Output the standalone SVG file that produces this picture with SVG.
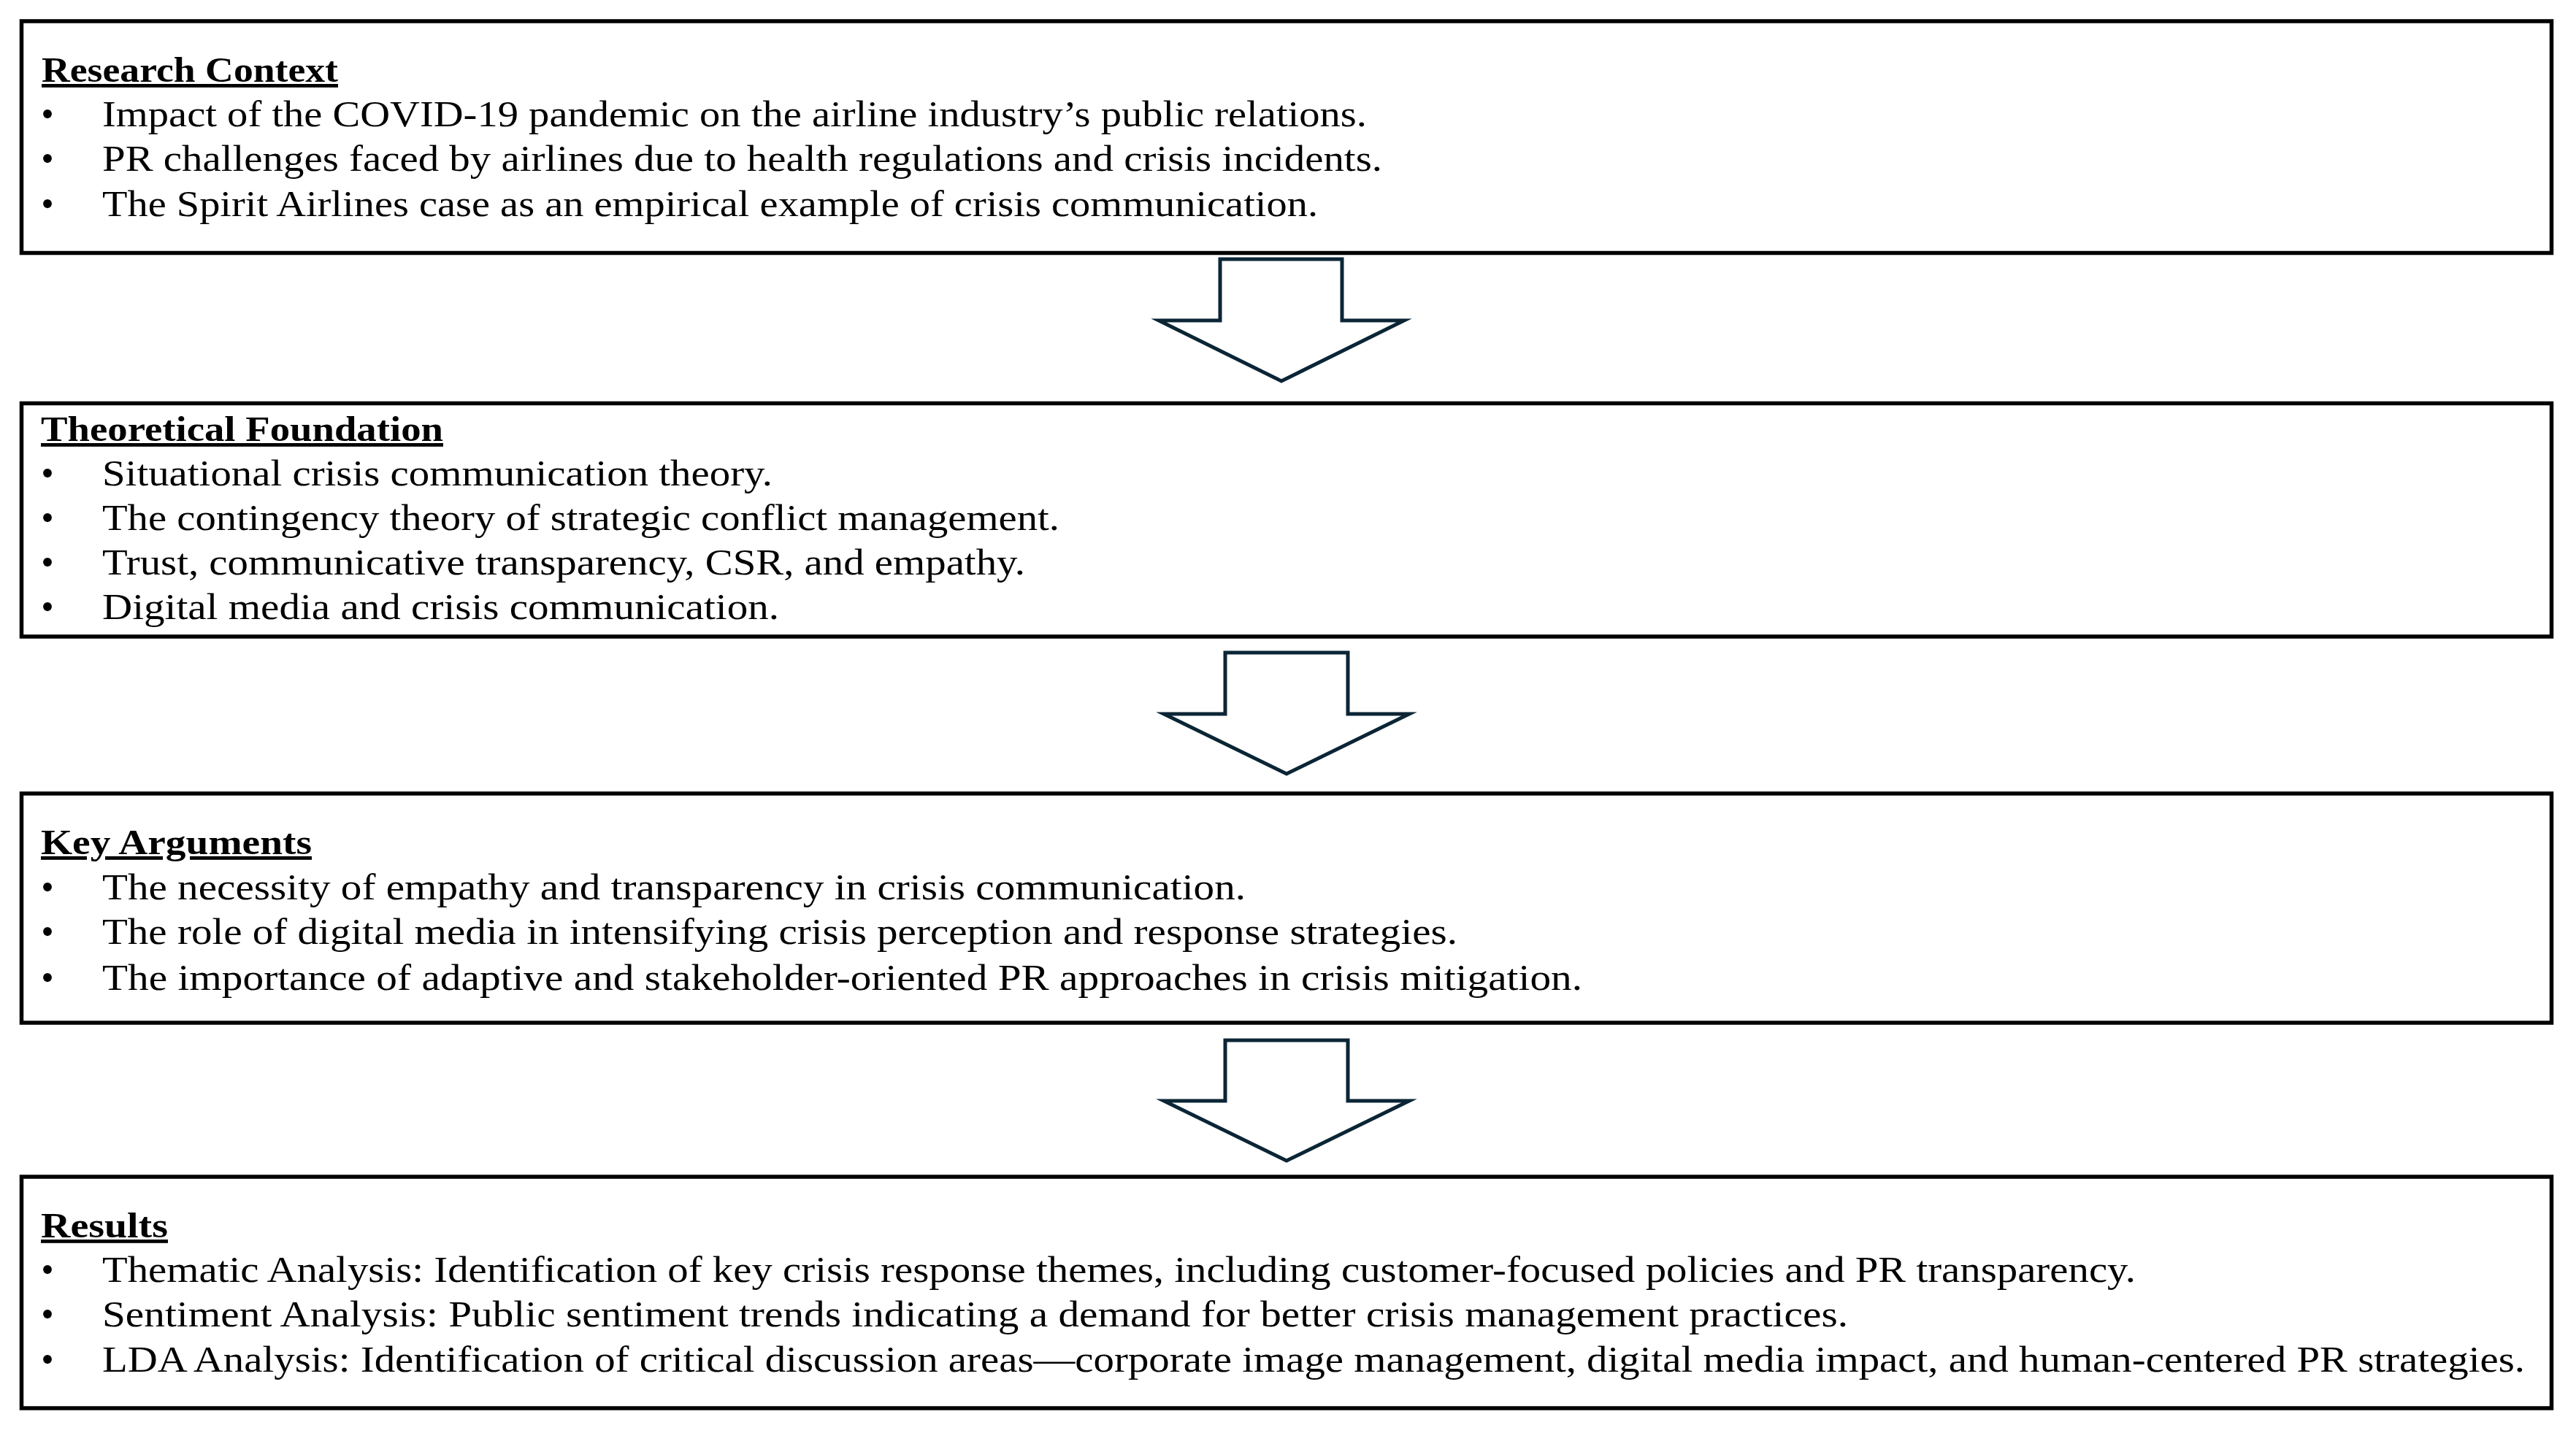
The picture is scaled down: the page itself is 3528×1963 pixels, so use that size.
<svg xmlns="http://www.w3.org/2000/svg" width="3528" height="1963" viewBox="0 0 3528 1963">
<style>
.box{fill:#ffffff;stroke:#000000;stroke-width:5.5}
.arr{fill:#ffffff;stroke:#0b2535;stroke-width:5;stroke-miterlimit:10;stroke-linejoin:miter}
.t{font-family:"Liberation Serif","Times New Roman",serif;font-size:48px;font-weight:bold;fill:#000;text-decoration:underline}
.b{font-family:"Liberation Serif","Times New Roman",serif;font-size:50px;fill:#000}
.d{font-family:"Liberation Serif","Times New Roman",serif;font-size:50px;fill:#000;text-anchor:middle}
</style>
<rect width="3528" height="1963" fill="#ffffff"/>
<g id="connectors">
<path class="arr" d="M1671,355 H1838 V439 H1923 L1755,522 L1587,439 H1671 Z"/>
<path class="arr" d="M1678,894 H1846 V978 H1930 L1762,1060 L1594,978 H1678 Z"/>
<path class="arr" d="M1678,1425 H1846 V1508 H1930 L1762,1590 L1594,1508 H1678 Z"/>
</g>
<g id="research-context">
<rect class="box" x="29.5" y="29" width="3465" height="317.5"/>
<text class="t" x="57" y="112" textLength="406" lengthAdjust="spacingAndGlyphs">Research Context</text>
<text class="d" x="65" y="173">•</text>
<text class="d" x="65" y="234">•</text>
<text class="d" x="65" y="296">•</text>
<text class="b" x="140" y="173" textLength="1732" lengthAdjust="spacingAndGlyphs">Impact of the COVID-19 pandemic on the airline industry’s public relations.</text>
<text class="b" x="140" y="234" textLength="1753" lengthAdjust="spacingAndGlyphs">PR challenges faced by airlines due to health regulations and crisis incidents.</text>
<text class="b" x="140" y="296" textLength="1665" lengthAdjust="spacingAndGlyphs">The Spirit Airlines case as an empirical example of crisis communication.</text>
</g>
<g id="theoretical-foundation">
<rect class="box" x="29.5" y="552.5" width="3465" height="319.5"/>
<text class="t" x="56" y="604" textLength="551" lengthAdjust="spacingAndGlyphs">Theoretical Foundation</text>
<text class="d" x="65" y="665">•</text>
<text class="d" x="65" y="726">•</text>
<text class="d" x="65" y="787">•</text>
<text class="d" x="65" y="848">•</text>
<text class="b" x="140" y="665" textLength="918" lengthAdjust="spacingAndGlyphs">Situational crisis communication theory.</text>
<text class="b" x="140" y="726" textLength="1311" lengthAdjust="spacingAndGlyphs">The contingency theory of strategic conflict management.</text>
<text class="b" x="140" y="787" textLength="1264" lengthAdjust="spacingAndGlyphs">Trust, communicative transparency, CSR, and empathy.</text>
<text class="b" x="140" y="848" textLength="927" lengthAdjust="spacingAndGlyphs">Digital media and crisis communication.</text>
</g>
<g id="key-arguments">
<rect class="box" x="29.5" y="1087" width="3465" height="314"/>
<text class="t" x="56" y="1170" textLength="371" lengthAdjust="spacingAndGlyphs">Key Arguments</text>
<text class="d" x="65" y="1232">•</text>
<text class="d" x="65" y="1293">•</text>
<text class="d" x="65" y="1356">•</text>
<text class="b" x="140" y="1232" textLength="1566" lengthAdjust="spacingAndGlyphs">The necessity of empathy and transparency in crisis communication.</text>
<text class="b" x="140" y="1293" textLength="1856" lengthAdjust="spacingAndGlyphs">The role of digital media in intensifying crisis perception and response strategies.</text>
<text class="b" x="140" y="1356" textLength="2027" lengthAdjust="spacingAndGlyphs">The importance of adaptive and stakeholder-oriented PR approaches in crisis mitigation.</text>
</g>
<g id="results">
<rect class="box" x="29.5" y="1612" width="3465" height="317"/>
<text class="t" x="56" y="1695" textLength="174" lengthAdjust="spacingAndGlyphs">Results</text>
<text class="d" x="65" y="1756">•</text>
<text class="d" x="65" y="1817">•</text>
<text class="d" x="65" y="1879">•</text>
<text class="b" x="140" y="1756" textLength="2785" lengthAdjust="spacingAndGlyphs">Thematic Analysis: Identification of key crisis response themes, including customer-focused policies and PR transparency.</text>
<text class="b" x="140" y="1817" textLength="2391" lengthAdjust="spacingAndGlyphs">Sentiment Analysis: Public sentiment trends indicating a demand for better crisis management practices.</text>
<text class="b" x="140" y="1879" textLength="3318" lengthAdjust="spacingAndGlyphs">LDA Analysis: Identification of critical discussion areas—corporate image management, digital media impact, and human-centered PR strategies.</text>
</g>
</svg>
